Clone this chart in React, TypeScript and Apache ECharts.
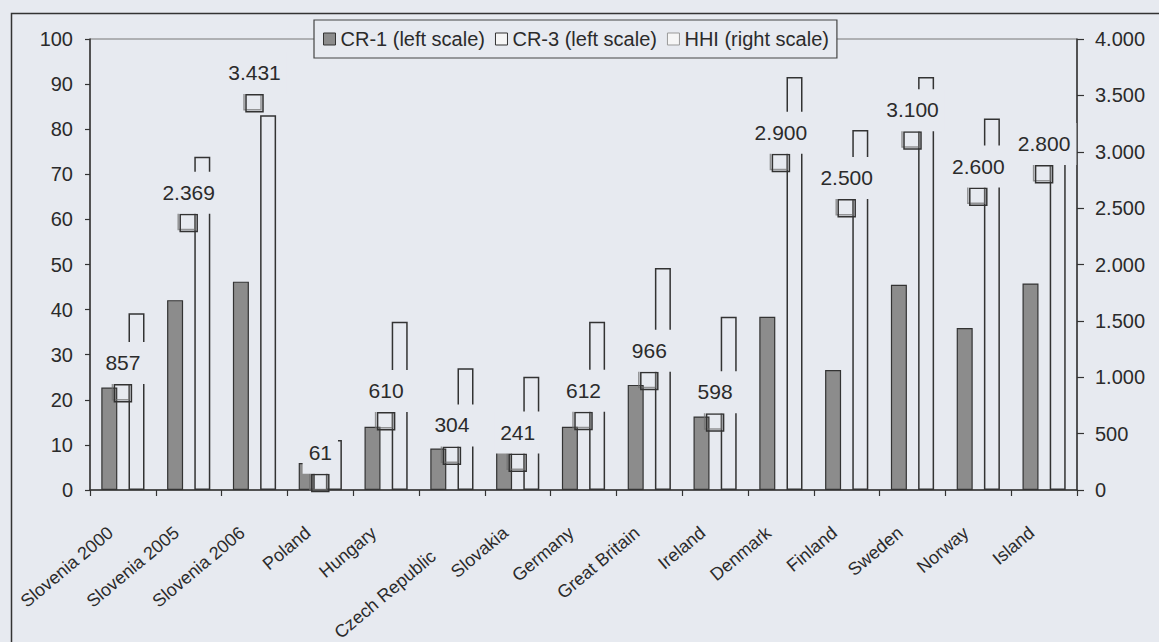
import React, { useEffect, useRef } from "react";
import * as echarts from "echarts";

const categories = [
  "Slovenia 2000", "Slovenia 2005", "Slovenia 2006", "Poland", "Hungary",
  "Czech Republic", "Slovakia", "Germany", "Great Britain", "Ireland",
  "Denmark", "Finland", "Sweden", "Norway", "Island",
];
const cr1 = [22.7, 42.1, 46.2, 6.0, 14.0, 9.2, 8.5, 14.0, 23.3, 16.3, 38.4, 26.6, 45.5, 35.9, 45.8];
const cr3 = [39.2, 73.9, 83.1, 11.1, 37.3, 27.0, 25.1, 37.3, 49.2, 38.4, 91.6, 79.8, 91.6, 82.4, 81.3];
const hhi = [857, 2369, 3431, 61, 610, 304, 241, 612, 966, 598, 2900, 2500, 3100, 2600, 2800];

const BG = "#e7eaf0";
const INK = "#2b2b2b";
const FONT = "Liberation Sans, Arial, sans-serif";

const fmt = (v: number) => {
  if (v >= 1000) {
    const th = Math.floor(v / 1000);
    const rest = Math.round(v % 1000);
    return th + "." + String(rest).padStart(3, "0");
  }
  return String(v);
};

export default function App() {
  const ref = useRef<HTMLDivElement>(null);
  useEffect(() => {
    if (!ref.current) return;
    const chart = echarts.init(ref.current, null, { renderer: "svg" });
    chart.setOption({
      animation: false,
      backgroundColor: BG,
      textStyle: { fontFamily: FONT, color: INK },
      graphic: [
        {
          type: "rect",
          left: 9,
          top: 11,
          shape: { width: 1300, height: 800 },
          style: { fill: "none", stroke: "#333", lineWidth: 1.5 },
          z: -1,
        },
      ],
      legend: {
        left: 314,
        top: 20,
        padding: [9, 8, 9, 9],
        itemGap: 10,
        itemWidth: 12,
        itemHeight: 12,
        backgroundColor: BG,
        borderColor: "#444",
        borderWidth: 1.2,
        textStyle: { fontSize: 20, color: INK, fontFamily: FONT },
        data: [
          { name: "CR-1 (left scale)", icon: "rect", itemStyle: { color: "#8c8c8c", borderColor: "#333", borderWidth: 1 } },
          { name: "CR-3 (left scale)", icon: "rect", itemStyle: { color: "#f6f6f6", borderColor: "#333", borderWidth: 1 } },
          { name: "HHI (right scale)", icon: "rect", itemStyle: { color: "#f6f6f6", borderColor: "#999", borderWidth: 1 }, lineStyle: { opacity: 0 } },
        ],
      },
      grid: {
        left: 90,
        right: 82,
        top: 39,
        bottom: 152,
        containLabel: false,
        outerBoundsMode: "none",
        show: true,
        borderColor: "#777",
        borderWidth: 1,
        backgroundColor: "transparent",
      },
      xAxis: {
        type: "category",
        data: categories,
        axisLine: { lineStyle: { color: "#333", width: 1.5 } },
        axisTick: { show: true, length: 6, lineStyle: { color: "#333", width: 1.2 } },
        axisLabel: {
          interval: 0,
          rotate: 40,
          fontSize: 18,
          color: INK,
          margin: 30,
          fontFamily: FONT,
          padding: [0, 16, 0, 0],
          formatter: (v: string) =>
            v === "Czech Republic" ? "{sp|}\n{t2|" + v + "}" : "{t|" + v + "}",
          rich: {
            t: { fontSize: 18, fontFamily: FONT, color: INK, lineHeight: 22 },
            t2: { fontSize: 18, fontFamily: FONT, color: INK, lineHeight: 22, padding: [0, 20, 0, 0] },
            sp: { lineHeight: 28, fontSize: 18 },
          },
        },
      },
      yAxis: [
        {
          type: "value",
          min: 0,
          max: 100,
          interval: 10,
          splitLine: { show: false },
          axisLine: { show: true, lineStyle: { color: "#333", width: 1.5 } },
          axisTick: { show: true, length: 5, lineStyle: { color: "#333", width: 1.2 } },
          axisLabel: { fontSize: 20, color: INK, margin: 17, fontFamily: FONT },
        },
        {
          type: "value",
          min: 0,
          max: 4000,
          interval: 500,
          position: "right",
          splitLine: { show: false },
          axisLine: { show: true, lineStyle: { color: "#333", width: 1.5 } },
          axisTick: { show: true, length: 7, lineStyle: { color: "#333", width: 1.2 } },
          axisLabel: { fontSize: 20, color: INK, margin: 18, fontFamily: FONT, formatter: (v: number) => fmt(v) },
        },
      ],
      series: [
        {
          name: "CR-1 (left scale)",
          type: "bar",
          yAxisIndex: 0,
          data: cr1,
          barWidth: 16,
          barGap: "70%",
          itemStyle: { color: "#8c8c8c", borderColor: "#333", borderWidth: 1.2 },
          z: 2,
        },
        {
          name: "CR-3 (left scale)",
          type: "bar",
          yAxisIndex: 0,
          data: cr3,
          barWidth: 16,
          barGap: "70%",
          itemStyle: { color: "transparent", borderColor: "#333", borderWidth: 1.5 },
          z: 2,
        },
        {
          name: "HHI (right scale)",
          type: "line",
          yAxisIndex: 1,
          data: hhi,
          symbol: "rect",
          symbolSize: 17,
          showSymbol: true,
          lineStyle: { opacity: 0, width: 0 },
          itemStyle: {
            color: "transparent",
            borderColor: "#333",
            borderWidth: 1.5,
            shadowColor: "rgba(110,110,110,0.7)",
            shadowOffsetX: -2,
            shadowOffsetY: -2,
            shadowBlur: 0,
          },
          label: {
            show: true,
            position: "top",
            distance: 0,
            formatter: (p: any) => fmt(p.value),
            fontSize: 21,
            color: INK,
            fontFamily: FONT,
            backgroundColor: BG,
            padding: [10, 6, 11, 6],
          },
          z: 5,
        },
      ],
    });
    return () => chart.dispose();
  }, []);
  return (
    <div
      ref={ref}
      style={{ position: "fixed", left: 0, top: 0, width: 1159, height: 642 }}
    />
  );
}
